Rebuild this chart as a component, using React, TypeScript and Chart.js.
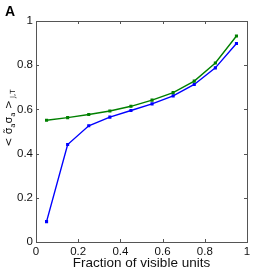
import React, { useEffect, useRef } from "react";
import { Chart, registerables } from "chart.js";

Chart.register(...registerables);

const fractions = [0.05, 0.15, 0.25, 0.35, 0.45, 0.55, 0.65, 0.75, 0.85, 0.95];
const greenValues = [0.551, 0.563, 0.577, 0.593, 0.614, 0.642, 0.676, 0.728, 0.81, 0.932];
const blueValues = [0.092, 0.441, 0.526, 0.565, 0.595, 0.625, 0.661, 0.713, 0.788, 0.898];
const tickValues = [0, 0.2, 0.4, 0.6, 0.8, 1];
const xTitle = "Fraction of visible units";
const panelLabel = "A";

const FONT = "'Liberation Sans', Arial, Helvetica, sans-serif";

const decorPlugin = {
  id: "decor",
  afterDraw(chart: any) {
    const ctx = chart.ctx;
    const { left, right, top, bottom } = chart.chartArea;
    const xs = chart.scales.x;
    const ys = chart.scales.y;
    ctx.save();
    // box
    ctx.strokeStyle = "#555";
    ctx.lineWidth = 1;
    ctx.strokeRect(Math.round(left) + 0.5, Math.round(top) + 0.5, Math.round(right - left), Math.round(bottom - top));
    // inward ticks
    const L = 3;
    tickValues.forEach((v) => {
      const px = Math.round(xs.getPixelForValue(v)) + 0.5;
      ctx.beginPath();
      ctx.moveTo(px, bottom);
      ctx.lineTo(px, bottom - L);
      ctx.moveTo(px, top);
      ctx.lineTo(px, top + L);
      ctx.stroke();
      const py = Math.round(ys.getPixelForValue(v)) + 0.5;
      ctx.beginPath();
      ctx.moveTo(left, py);
      ctx.lineTo(left + L, py);
      ctx.moveTo(right, py);
      ctx.lineTo(right - L, py);
      ctx.stroke();
    });
    // panel label
    ctx.fillStyle = "#000";
    ctx.font = `bold 14px ${FONT}`;
    ctx.textAlign = "left";
    ctx.textBaseline = "alphabetic";
    ctx.fillText(panelLabel, 5, 16);
    // x title
    ctx.font = `13.5px ${FONT}`;
    ctx.textAlign = "center";
    ctx.fillStyle = "#111";
    ctx.fillText(xTitle, (left + right) / 2, 267);
    // y title (rotated, with subscripts)
    ctx.translate(12, 118);
    ctx.rotate(-Math.PI / 2);
    const parts: [string, number, number][] = [
      ["< \u03c3\u0303", 10.5, 0],
      ["a", 7, 2.5],
      ["\u03c3", 10.5, 0],
      ["a", 7, 2.5],
      [" >", 10.5, 0],
      [" J,T", 7, 2.5],
    ];
    let total = 0;
    parts.forEach(([t, s]) => {
      ctx.font = `${s}px 'DejaVu Sans', ${FONT}`;
      total += ctx.measureText(t).width;
    });
    let x = -total / 2;
    ctx.textAlign = "left";
    parts.forEach(([t, s, dy]) => {
      ctx.font = `${s}px 'DejaVu Sans', ${FONT}`;
      ctx.fillText(t, x, dy);
      x += ctx.measureText(t).width;
    });
    ctx.restore();
  },
};

export default function App() {
  const ref = useRef<HTMLCanvasElement | null>(null);
  useEffect(() => {
    document.body.style.margin = "0";
    const canvas = ref.current!;
    const chart = new Chart(canvas, {
      type: "line",
      data: {
        datasets: [
          {
            label: "green",
            data: fractions.map((f, i) => ({ x: f, y: greenValues[i] })),
            borderColor: "#008000",
            backgroundColor: "#008000",
            borderWidth: 1.4,
            pointRadius: 1.2,
            pointStyle: "rect",
            tension: 0,
          },
          {
            label: "blue",
            data: fractions.map((f, i) => ({ x: f, y: blueValues[i] })),
            borderColor: "#0000ff",
            backgroundColor: "#0000ff",
            borderWidth: 1.4,
            pointRadius: 1.2,
            pointStyle: "rect",
            tension: 0,
          },
        ],
      },
      options: {
        animation: false,
        responsive: false,
        devicePixelRatio: 1,
        layout: { padding: { top: 21, right: 26, left: 0, bottom: 0 } },
        plugins: { legend: { display: false }, tooltip: { enabled: false } },
        scales: {
          x: {
            type: "linear",
            min: 0,
            max: 1,
            afterBuildTicks: (s: any) => {
              s.ticks = tickValues.map((v) => ({ value: v }));
            },
            afterFit: (s: any) => {
              s.height = 31;
            },
            grid: { display: false, drawTicks: false },
            border: { display: false },
            ticks: {
              color: "#111",
              font: { family: FONT, size: 11.5 },
              padding: 3,
              maxRotation: 0,
              callback: (v: any) => String(Number(v)),
            },
          },
          y: {
            type: "linear",
            min: 0,
            max: 1,
            afterBuildTicks: (s: any) => {
              s.ticks = tickValues.map((v) => ({ value: v }));
            },
            afterFit: (s: any) => {
              s.width = 36;
            },
            grid: { display: false, drawTicks: false },
            border: { display: false },
            ticks: {
              color: "#111",
              font: { family: FONT, size: 11.5 },
              padding: 3,
              callback: (v: any) => String(Number(v)),
            },
          },
        },
      },
      plugins: [decorPlugin],
    } as any);
    return () => chart.destroy();
  }, []);
  return <canvas ref={ref} width={273} height={273} style={{ display: "block", width: 273, height: 273 }} />;
}
